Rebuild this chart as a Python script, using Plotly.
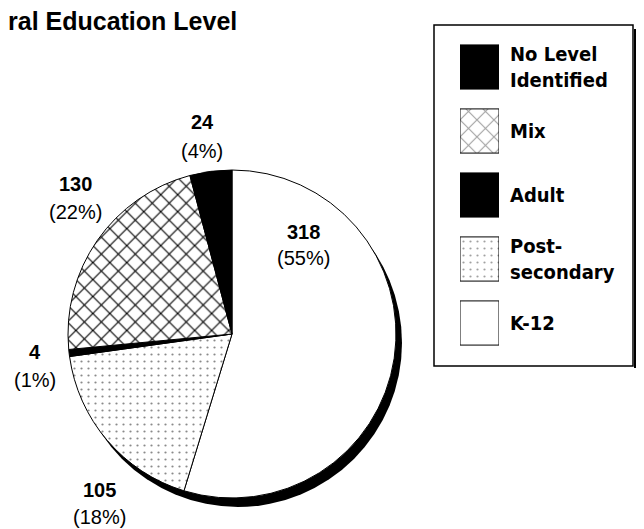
import plotly.graph_objects as go

# ---- data ----
categories = ["K-12", "Post-secondary", "Adult", "Mix", "No Level Identified"]
counts = [318, 105, 4, 130, 24]
legend_order = ["No Level Identified", "Mix", "Adult", "Post-secondary", "K-12"]
legend_labels = ["No Level<br>Identified", "Mix", "Adult", "Post-<br>secondary", "K-12"]
title_text = "ral Education Level"

# ---- styles ----
fill = {"K-12": "white", "Post-secondary": "white", "Adult": "black",
        "Mix": "white", "No Level Identified": "black"}
pat_shape = {"K-12": "", "Post-secondary": ".", "Adult": "",
             "Mix": "x", "No Level Identified": ""}
pat_fg = {"K-12": "black", "Post-secondary": "#8a8a8a", "Adult": "black",
          "Mix": "black", "No Level Identified": "black"}
pat_size = {"K-12": 8, "Post-secondary": 7, "Adult": 8, "Mix": 12, "No Level Identified": 8}
pat_sol = {"K-12": 0.3, "Post-secondary": 0.08, "Adult": 0.3, "Mix": 0.18, "No Level Identified": 0.3}

# label placement (screen px: x centre, value-line y, percent-line y)
label_pos = {"No Level Identified": (202, 122, 151), "Mix": (75, 184, 212),
             "Adult": (35, 352, 380), "Post-secondary": (99, 490, 517),
             "K-12": (303, 232, 258)}

# page body has an 8px default margin: build the figure in screen coordinates
OFF = 8
W, H = 644 - OFF, 529 - OFF
cx, cy, r = 232, 334, 164
sdx, sdy = 6, 9

def px_x(a):
    return (a - OFF) / W

def px_y(a):
    return 1 - (a - OFF) / H

fig = go.Figure()

# shadow pie
fig.add_trace(go.Pie(
    values=[1], labels=["shadow"], sort=False,
    marker=dict(colors=["black"], line=dict(width=0)),
    textinfo="none", hoverinfo="skip", showlegend=False,
    domain=dict(x=[px_x(cx - r + sdx), px_x(cx + r + sdx)],
                y=[px_y(cy + r + sdy), px_y(cy - r + sdy)]),
))

fig.add_trace(go.Pie(
    labels=categories, values=counts, sort=False, direction="clockwise",
    rotation=0,
    marker=dict(
        colors=[fill[c] for c in categories],
        line=dict(color="black", width=1),
        pattern=dict(shape=[pat_shape[c] for c in categories],
                     fgcolor=[pat_fg[c] for c in categories],
                     bgcolor=[fill[c] for c in categories],
                     size=[pat_size[c] for c in categories],
                     solidity=[pat_sol[c] for c in categories]),
    ),
    textinfo="none",
    hoverinfo="label+value+percent",
    showlegend=False,
    domain=dict(x=[px_x(cx - r), px_x(cx + r)], y=[px_y(cy + r), px_y(cy - r)]),
))

# legend swatches drawn as bars on their own axes
fig.add_trace(go.Bar(
    y=legend_order, x=[1] * len(legend_order), base=0, orientation="h",
    width=0.69, xaxis="x2", yaxis="y2",
    marker=dict(
        color=[fill[c] for c in legend_order],
        line=dict(color="black", width=1),
        pattern=dict(shape=[pat_shape[c] for c in legend_order],
                     fgcolor=[pat_fg[c] for c in legend_order],
                     bgcolor=[fill[c] for c in legend_order],
                     size=[pat_size[c] for c in legend_order],
                     solidity=[pat_sol[c] for c in legend_order]),
    ),
    hoverinfo="skip", showlegend=False,
))

annotations = []
for cat, lab in zip(legend_order, legend_labels):
    annotations.append(dict(
        x=1, y=cat, xref="x2", yref="y2", text=lab, showarrow=False,
        xanchor="left", yanchor="middle", xshift=9, align="left",
        font=dict(family="DejaVu Sans Condensed, DejaVu Sans", size=20,
                  color="black", weight="bold"),
    ))

total = sum(counts)
for cat, v in zip(categories, counts):
    lx, ly1, ly2 = label_pos[cat]
    annotations.append(dict(
        x=px_x(lx), y=px_y(ly1), xref="paper", yref="paper", text=f"<b>{v}</b>",
        showarrow=False, xanchor="center", yanchor="middle",
        font=dict(family="Liberation Sans, Arial", size=20, color="black"),
    ))
    annotations.append(dict(
        x=px_x(lx), y=px_y(ly2), xref="paper", yref="paper",
        text=f"({round(100 * v / total)}%)",
        showarrow=False, xanchor="center", yanchor="middle",
        font=dict(family="Liberation Sans, Arial", size=20, color="black"),
    ))

shapes = [
    # legend shadow
    dict(type="rect", xref="paper", yref="paper", layer="below",
         x0=px_x(634), x1=px_x(642), y0=px_y(368), y1=px_y(29),
         fillcolor="black", line=dict(width=0)),
    # legend box
    dict(type="rect", xref="paper", yref="paper", layer="below",
         x0=px_x(434), x1=px_x(633), y0=px_y(366), y1=px_y(25),
         fillcolor="white", line=dict(color="black", width=1.5)),
]

fig.update_layout(
    width=W, height=H,
    margin=dict(l=0, r=0, t=0, b=0),
    paper_bgcolor="white", plot_bgcolor="white",
    showlegend=False,
    font=dict(family="Liberation Sans, Arial", color="black"),
    title=dict(text=title_text, x=0, xref="container", xanchor="left",
               y=px_y(21), yanchor="middle",
               font=dict(family="Liberation Sans, Arial", size=25,
                         color="black", weight="bold")),
    xaxis2=dict(domain=[px_x(460), px_x(499)], range=[0, 1], anchor="y2",
                visible=False, fixedrange=True),
    yaxis2=dict(domain=[px_y(355), px_y(35)], range=[4.5, -0.5], anchor="x2",
                visible=False, fixedrange=True, type="category"),
    shapes=shapes,
    annotations=annotations,
)

fig.write_html("out.html")
